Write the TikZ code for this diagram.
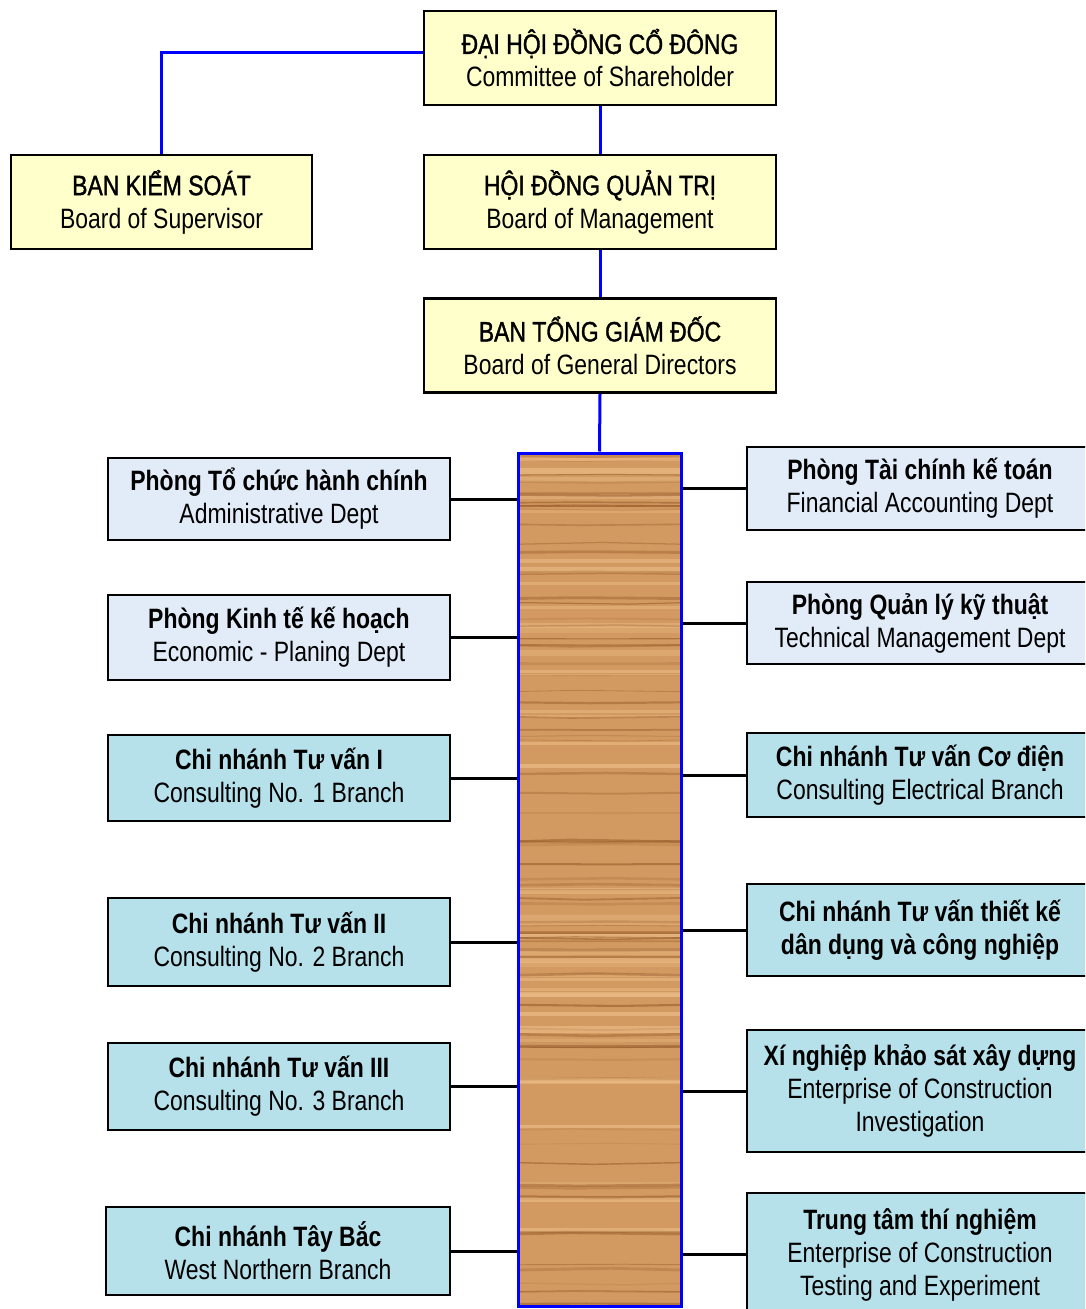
\documentclass[tikz,border=0pt]{standalone}
\usepackage{fontspec}
\setmainfont{Liberation Sans}[FakeStretch=0.82]
\newfontfamily\titlefont{Liberation Sans}[FakeStretch=0.82, FakeBold=1.2]
\usepackage{xcolor}
\definecolor{board-yellow}{HTML}{FFFFCC}
\definecolor{dept-blue}{HTML}{E1ECF8}
\definecolor{branch-cyan}{HTML}{B6E0EA}
\definecolor{link-blue}{HTML}{0000FF}
\definecolor{wood}{HTML}{D29A60}
\definecolor{wood-dark}{HTML}{95592A}
\definecolor{wood-light}{HTML}{EDBE8A}

\begin{document}
\pgfmathsetseed{11}
\begin{tikzpicture}[x=0.75pt, y=-0.75pt,
    every node/.style={font=\fontsize{21}{24.75}\selectfont, inner sep=0pt},
    boardbox/.style={draw, line width=2pt, fill=board-yellow, align=center,
      minimum height=70.5pt},
    deptbox/.style={draw, line width=2pt, fill=dept-blue, align=center},
    branchbox/.style={draw, line width=2pt, fill=branch-cyan, align=center},
    blueline/.style={draw=link-blue, line width=2.25pt},
    blackline/.style={draw=black, line width=2.25pt}]
    \clip (0, 0) rectangle (1085, 1309);
    \fill[white] (0, 0) rectangle (1085, 1309);

    % board level
    \node[boardbox, minimum width=264pt] (cos) at (600, 58)
      {{\titlefont ĐẠI HỘI ĐỒNG CỔ ĐÔNG}\\Committee of Shareholder};
    \node[boardbox, minimum width=225.75pt] (bks) at (161.5, 202)
      {{\titlefont BAN KIỂM SOÁT}\\Board of Supervisor};
    \node[boardbox, minimum width=264pt] (hdqt) at (600, 202)
      {{\titlefont HỘI ĐỒNG QUẢN TRỊ}\\Board of Management};
    \node[boardbox, minimum width=264pt] (btgd) at (600, 345.5)
      {{\titlefont BAN TỔNG GIÁM ĐỐC}\\Board of General Directors};

    % wooden spine (grain drawn relative to the node centre)
    \node[draw=link-blue, line width=2.25pt, fill=wood,
      minimum width=122.25pt, minimum height=639.75pt,
      path picture={
        \foreach \k in {1,...,40} {
          \pgfmathsetmacro\yy{850*rnd-425}
          \pgfmathsetmacro\op{0.3+0.4*rnd}
          \pgfmathsetmacro\lw{1.5+4*rnd}
          \draw[wood-light, opacity=\op, line width=\lw pt]
            (-90, \yy) -- (90, \yy);
        }
        \foreach \k in {1,...,75} {
          \pgfmathsetmacro\yy{850*rnd-425}
          \pgfmathsetmacro\dy{4*rnd-2}
          \pgfmathsetmacro\xs{60*rnd-30}
          \pgfmathsetmacro\op{0.15+0.45*rnd}
          \pgfmathsetmacro\lw{0.6+1.6*rnd}
          \draw[wood-dark, opacity=\op, line width=\lw pt]
            (-90, \yy) -- (\xs, \yy+\dy) -- (90, \yy);
        }
      }] (bar) at (599.5, 879.5) {};

    % departments and branches, left side
    \node[deptbox, minimum width=256.5pt, minimum height=61.5pt] (adm) at (279, 499)
      {\bfseries Phòng Tổ chức hành chính\\Administrative Dept};
    \node[deptbox, minimum width=256.5pt, minimum height=63.75pt] (eco) at (279, 637.5)
      {\bfseries Phòng Kinh tế kế hoạch\\Economic - Planing Dept};
    \node[branchbox, minimum width=256.5pt, minimum height=64.5pt] (br1) at (279, 778)
      {\bfseries Chi nhánh Tư vấn I\\Consulting No. 1 Branch};
    \node[branchbox, minimum width=256.5pt, minimum height=66pt] (br2) at (279, 942)
      {\bfseries Chi nhánh Tư vấn II\\Consulting No. 2 Branch};
    \node[branchbox, minimum width=256.5pt, minimum height=65.25pt] (br3) at (279, 1086.5)
      {\bfseries Chi nhánh Tư vấn III\\Consulting No. 3 Branch};
    \node[branchbox, minimum width=258pt, minimum height=66pt] (wnb) at (278, 1251)
      {\bfseries Chi nhánh Tây Bắc\\West Northern Branch};

    % departments and branches, right side
    \node[deptbox, minimum width=259.5pt, minimum height=62.25pt] (fin) at (920, 488.5)
      {\bfseries Phòng Tài chính kế toán\\Financial Accounting Dept};
    \node[deptbox, minimum width=259.5pt, minimum height=61.5pt] (tec) at (920, 623)
      {\bfseries Phòng Quản lý kỹ thuật\\Technical Management Dept};
    \node[branchbox, minimum width=259.5pt, minimum height=63pt] (ele) at (920, 775)
      {\bfseries Chi nhánh Tư vấn Cơ điện\\Consulting Electrical Branch};
    \node[branchbox, minimum width=259.5pt, minimum height=69pt] (des) at (920, 930)
      {\bfseries Chi nhánh Tư vấn thiết kế\\\bfseries dân dụng và công nghiệp};
    \node[branchbox, minimum width=259.5pt, minimum height=91.5pt] (inv) at (920, 1091)
      {\bfseries Xí nghiệp khảo sát xây dựng\\Enterprise of Construction\\Investigation};
    \node[branchbox, minimum width=259.5pt, minimum height=92.25pt] (lab) at (920, 1254.5)
      {\bfseries Trung tâm thí nghiệm\\Enterprise of Construction\\Testing and Experiment};

    % blue connectors
    \draw[blueline] ([yshift=3.75pt]cos.west) -| (bks.north);
    \draw[blueline] (cos.south) -- (hdqt.north);
    \draw[blueline] (hdqt.south) -- (btgd.north);
    \draw[blueline] (btgd.south) -- (bar.north);

    % black connectors to the spine
    \foreach \n in {adm, eco, br1, br2, br3, wnb}
      \draw[blackline] (\n.east) -- (\n.east -| bar.west);
    \foreach \n in {fin, tec, ele, des, inv, lab}
      \draw[blackline] (\n.west) -- (\n.west -| bar.east);
\end{tikzpicture}
\end{document}
